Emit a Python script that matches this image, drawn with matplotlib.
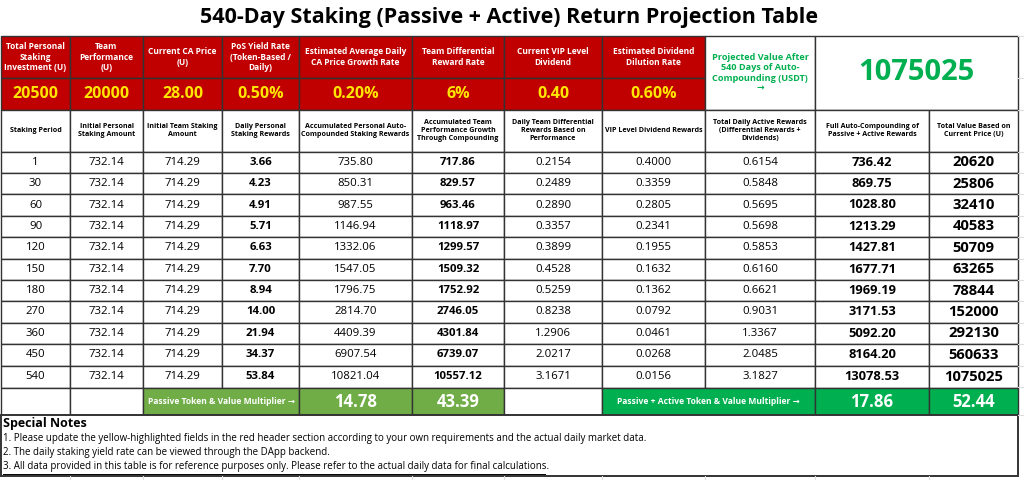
import matplotlib.pyplot as plt
from matplotlib.patches import Rectangle

plt.rcParams['font.family'] = ['Open Sans', 'DejaVu Sans']

title = '540-Day Staking (Passive + Active) Return Projection Table'

input_labels = ['Total Personal\nStaking\nInvestment (U)', 'Team\nPerformance\n(U)',
                'Current CA Price\n(U)', 'PoS Yield Rate\n(Token-Based /\nDaily)',
                'Estimated Average Daily\nCA Price Growth Rate',
                'Team Differential\nReward Rate', 'Current VIP Level\nDividend',
                'Estimated Dividend\nDilution Rate']
input_values = ['20500', '20000', '28.00', '0.50%', '0.20%', '6%', '0.40', '0.60%']
projected_label = 'Projected Value After\n540 Days of Auto-\nCompounding (USDT)\n\u2192'
projected_value = '1075025'

col_labels = ['Staking Period', 'Initial Personal\nStaking Amount', 'Initial Team Staking\nAmount',
              'Daily Personal\nStaking Rewards', 'Accumulated Personal Auto-\nCompounded Staking Rewards',
              'Accumulated Team\nPerformance Growth\nThrough Compounding',
              'Daily Team Differential\nRewards Based on\nPerformance', 'VIP Level Dividend Rewards',
              'Total Daily Active Rewards\n(Differential Rewards +\nDividends)',
              'Full Auto-Compounding of\nPassive + Active Rewards',
              'Total Value Based on\nCurrent Price (U)']

periods = [1, 30, 60, 90, 120, 150, 180, 270, 360, 450, 540]
init_personal = [732.14] * 11
init_team = [714.29] * 11
daily_personal = [3.66, 4.23, 4.91, 5.71, 6.63, 7.70, 8.94, 14.00, 21.94, 34.37, 53.84]
acc_personal = [735.80, 850.31, 987.55, 1146.94, 1332.06, 1547.05, 1796.75, 2814.70,
                4409.39, 6907.54, 10821.04]
acc_team = [717.86, 829.57, 963.46, 1118.97, 1299.57, 1509.32, 1752.92, 2746.05,
            4301.84, 6739.07, 10557.12]
daily_diff = [0.2154, 0.2489, 0.2890, 0.3357, 0.3899, 0.4528, 0.5259, 0.8238,
              1.2906, 2.0217, 3.1671]
vip_div = [0.4000, 0.3359, 0.2805, 0.2341, 0.1955, 0.1632, 0.1362, 0.0792,
           0.0461, 0.0268, 0.0156]
total_active = [0.6154, 0.5848, 0.5695, 0.5698, 0.5853, 0.6160, 0.6621, 0.9031,
                1.3367, 2.0485, 3.1827]
full_compound = [736.42, 869.75, 1028.80, 1213.29, 1427.81, 1677.71, 1969.19, 3171.53,
                 5092.20, 8164.20, 13078.53]
total_value = [20620, 25806, 32410, 40583, 50709, 63265, 78844, 152000, 292130,
               560633, 1075025]

passive_mult = ['14.78', '43.39']
total_mult = ['17.86', '52.44']

notes = ['1. Please update the yellow-highlighted fields in the red header section according to your own requirements and the actual daily market data.',
         '2. The daily staking yield rate can be viewed through the DApp backend.',
         '3. All data provided in this table is for reference purposes only. Please refer to the actual daily data for final calculations.']

RED = '#C00000'
YELLOW = '#FFE600'
GREEN = '#00B050'
LGREEN = '#70AD47'
EDGE = '#333333'

xs = [1, 70, 143, 222, 299, 412, 504, 602, 705, 815, 929, 1018]
y_h1, y_h2, y_lab, y_data = 36, 78, 110, 151.5
row_h = 21.4
y_mult = y_data + row_h * 11 + 1.5
y_notes = 415
y_end = 476

fig = plt.figure(figsize=(10.24, 4.8), dpi=100)
ax = fig.add_axes([0, 0, 1, 1])
ax.set_xlim(0, 1024)
ax.set_ylim(480, 0)
ax.axis('off')


def cell(x0, x1, y0, y1, text='', fc='white', color='black', size=8.2, weight='normal', lw=1.0):
    ax.add_patch(Rectangle((x0, y0), x1 - x0, y1 - y0, facecolor=fc, edgecolor=EDGE, linewidth=lw))
    if text:
        ax.text((x0 + x1) / 2, (y0 + y1) / 2, text, ha='center', va='center', color=color,
                fontsize=size, fontweight=weight, linespacing=1.15)


# faint spreadsheet gridlines
for y in [y_h1, y_h2, y_lab, y_data] + [y_data + row_h * i for i in range(1, 12)] + [y_notes]:
    ax.plot([1018, 1024], [y, y], color='#dddddd', lw=0.8)
for x in xs[1:-1]:
    ax.plot([x, x], [476, 480], color='#dddddd', lw=0.8)

ax.text(509, 17, title, ha='center', va='center', fontsize=15.5, fontweight='bold')

# input header
for i, (lab, val) in enumerate(zip(input_labels, input_values)):
    cell(xs[i], xs[i + 1], y_h1, y_h2, lab, fc=RED, color='white', size=6.0, weight='bold')
    cell(xs[i], xs[i + 1], y_h2, y_lab, val, fc=RED, color=YELLOW, size=11.5, weight='bold')
cell(xs[8], xs[9], y_h1, y_lab, projected_label, color=GREEN, size=6.6, weight='bold')
cell(xs[9], xs[11], y_h1, y_lab, projected_value, color=GREEN, size=21, weight='bold')

# column labels
for i, lab in enumerate(col_labels):
    cell(xs[i], xs[i + 1], y_lab, y_data, lab, size=5.1, weight='bold')

# data rows
for r in range(len(periods)):
    y0 = y_data + row_h * r
    y1 = y0 + row_h + (1.5 if r == len(periods) - 1 else 0)
    vals = [(str(periods[r]), 8.2, 'normal'),
            (f'{init_personal[r]:.2f}', 8.2, 'normal'),
            (f'{init_team[r]:.2f}', 8.2, 'normal'),
            (f'{daily_personal[r]:.2f}', 8.2, 'bold'),
            (f'{acc_personal[r]:.2f}', 8.2, 'normal'),
            (f'{acc_team[r]:.2f}', 8.2, 'bold'),
            (f'{daily_diff[r]:.4f}', 8.2, 'normal'),
            (f'{vip_div[r]:.4f}', 8.2, 'normal'),
            (f'{total_active[r]:.4f}', 8.2, 'normal'),
            (f'{full_compound[r]:.2f}', 9.3, 'bold'),
            (f'{total_value[r]}', 10.6, 'bold')]
    for c, (t, s, w) in enumerate(vals):
        cell(xs[c], xs[c + 1], y0, y1, t, size=s, weight=w)

# multiplier row
cell(xs[0], xs[1], y_mult, y_notes)
cell(xs[1], xs[2], y_mult, y_notes)
cell(xs[2], xs[4], y_mult, y_notes, 'Passive Token & Value Multiplier \u2192', fc=LGREEN,
     color='white', size=6.1, weight='bold')
cell(xs[4], xs[5], y_mult, y_notes, passive_mult[0], fc=LGREEN, color='white', size=12, weight='bold')
cell(xs[5], xs[6], y_mult, y_notes, passive_mult[1], fc=LGREEN, color='white', size=12, weight='bold')
cell(xs[6], xs[7], y_mult, y_notes)
cell(xs[7], xs[9], y_mult, y_notes, 'Passive + Active Token & Value Multiplier \u2192', fc=GREEN,
     color='white', size=6.1, weight='bold')
cell(xs[9], xs[10], y_mult, y_notes, total_mult[0], fc=GREEN, color='white', size=12, weight='bold')
cell(xs[10], xs[11], y_mult, y_notes, total_mult[1], fc=GREEN, color='white', size=12, weight='bold')

# notes box
ax.add_patch(Rectangle((xs[0], y_notes), xs[-1] - xs[0], y_end - y_notes, facecolor='white',
                       edgecolor=EDGE, linewidth=1.4))
ax.text(3, 424, 'Special Notes', ha='left', va='center', fontsize=9, fontweight='bold')
for i, line in enumerate(notes):
    ax.text(3, 439 + 14 * i, line, ha='left', va='center', fontsize=7.05)
ax.plot([3, 545], [473.5, 473.5], color='black', lw=0.7)

fig.savefig('out.png', dpi=100)
